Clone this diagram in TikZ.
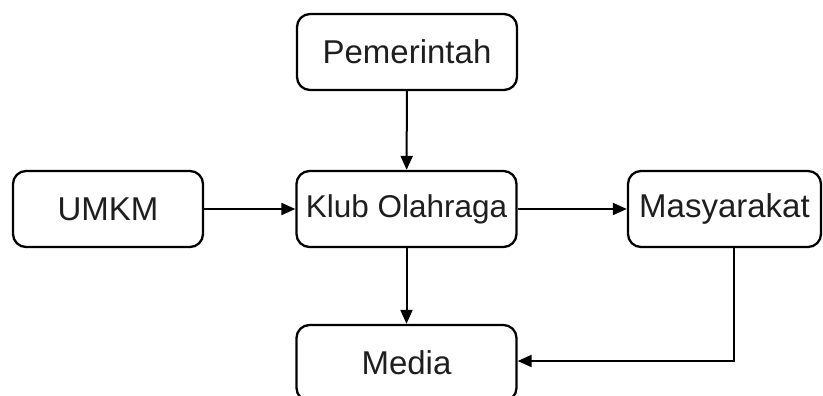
\documentclass[tikz,border=0pt]{standalone}
\usepackage{fontspec}
\setmainfont{Liberation Sans}
\usetikzlibrary{arrows.meta}
\definecolor{txt}{HTML}{1E1E1E}
\begin{document}
\begin{tikzpicture}[x=1pt,y=-1pt,
  box/.style={draw=black, line width=2.3pt, rounded corners=13pt, minimum height=76pt,
    inner sep=0pt, text=txt, font=\fontsize{33}{38}\selectfont},
  conn/.style={draw=black, line width=2pt, -{Triangle[length=14pt,width=12pt]}}]
\useasboundingbox (0,0) rectangle (823,396);
\node[box, minimum width=220pt] (pem) at (407,52) {Pemerintah};
\node[box, minimum width=190pt] (umkm) at (108,209) {UMKM};
\node[box, minimum width=220pt, font=\fontsize{31.5}{36}\selectfont] (klub) at (406.5,209) {Klub Olahraga};
\node[box, minimum width=193pt] (mas) at (724.5,209) {Masyarakat};
\node[box, minimum width=220pt] (media) at (406.5,363) {Media};
\draw[conn] (pem) -- (klub);
\draw[conn] (umkm) -- (klub);
\draw[conn] (klub) -- (mas);
\draw[conn] (klub) -- (media);
\draw[conn, rounded corners=0pt] ([xshift=9.5pt]mas.south) |- ([yshift=2pt]media.east);
\end{tikzpicture}
\end{document}
